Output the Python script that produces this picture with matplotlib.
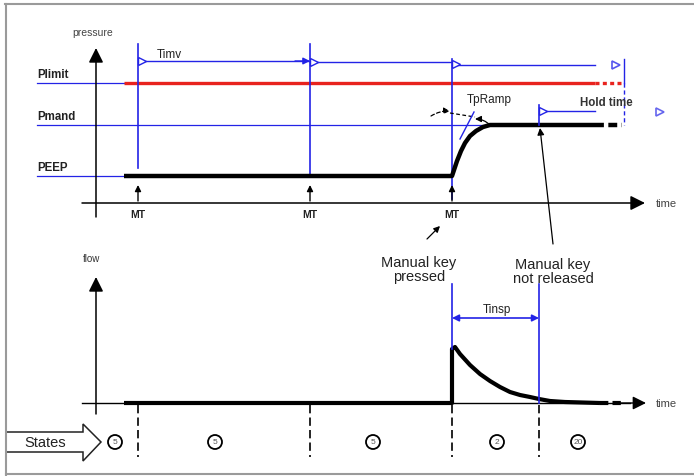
import matplotlib
matplotlib.use("Agg")
import matplotlib.pyplot as plt
from matplotlib.patches import Circle, Polygon

plt.rcParams['font.family'] = ['Liberation Sans', 'DejaVu Sans']

# ---- data (diagram units; y grows downward) ----
mt_times = [138, 310, 452]
release_time = 539
end_time = 595
dash_end = 622
level_names = ["Plimit", "Pmand", "PEEP"]
level_values = [84, 126, 177]
pressure_t = [124, 452, 454, 457, 461, 465, 470, 476, 483, 490, 500, 595]
pressure_p = [177, 177, 171, 162, 152, 144, 137, 132, 128, 126, 126, 126]
flow_t = [124, 452, 452, 455, 460, 470, 480, 490, 500, 510, 520, 530, 539, 550, 565, 600]
flow_v = [404, 404, 350, 348, 355, 366, 375, 382, 388, 393, 396, 398, 400, 402, 403, 404]
state_bounds = [138, 310, 452, 539]
state_centers = [115, 215, 373, 497, 578]
state_labels = ["5", "5", "5", "2", "20"]

BLUE = "#2323e6"
RED = "#e8231e"

fig = plt.figure(figsize=(6.94, 4.77), dpi=100)
ax = fig.add_axes([0, 0, 1, 1])
ax.set_xlim(0, 694)
ax.set_ylim(477, 0)
ax.axis("off")

# frame
ax.plot([5, 694], [5, 5], color="#9a9a9a", lw=1.5)
ax.plot([6, 6], [5, 476], color="#9a9a9a", lw=1.5)
ax.plot([6, 694], [475, 475], color="#9a9a9a", lw=1.5)

def arrow(x0, y0, x1, y1, color="k", lw=1.0, ms=14, style='-|>'):
    ax.annotate('', xy=(x1, y1), xytext=(x0, y0),
                arrowprops=dict(arrowstyle=style, color=color, lw=lw,
                                mutation_scale=ms, shrinkA=0, shrinkB=0))

# ---------------- pressure panel ----------------
P_AX_Y = 204
arrow(96, 218, 96, 49, lw=1.1, ms=22)
arrow(82, P_AX_Y, 645, P_AX_Y, lw=1.1, ms=22)
ax.text(93, 33, "pressure", fontsize=7.5, color="#444", ha="center", va="center")
ax.text(656, P_AX_Y, "time", fontsize=8, color="#444", ha="left", va="center")

# level lines and labels
for name, val in zip(level_names, level_values):
    right = 490 if name == "Pmand" else 124
    ax.plot([37, right], [val, val], color=BLUE, lw=0.9)
    ax.text(37, val - 9, name, fontsize=8.3, fontweight="bold", color="#222",
            ha="left", va="center")

# red Plimit line
ax.plot([124, end_time], [level_values[0]] * 2, color=RED, lw=2.4, solid_capstyle="butt")
ax.plot([end_time, dash_end], [level_values[0]] * 2, color=RED, lw=2.4, ls=(0, (1.2, 1.0)))

# MT verticals
ax.plot([mt_times[0]] * 2, [45, 169], color=BLUE, lw=1.2)
ax.plot([mt_times[1]] * 2, [45, 177], color=BLUE, lw=1.2)
ax.plot([mt_times[2]] * 2, [60, 200], color=BLUE, lw=1.2)

# pressure curve
ax.plot(pressure_t, pressure_p, color="k", lw=3.2, solid_capstyle="butt", solid_joinstyle="round")
ax.plot([end_time, dash_end], [level_values[1]] * 2, color="k", lw=3.2, ls=(0, (2.0, 1.0)))

# MT markers
for t in mt_times:
    arrow(t, 202, t, 186, lw=1.0, ms=9)
    ax.text(t, 215, "MT", fontsize=7.5, fontweight="bold", color="#222", ha="center", va="center")

# Timv arrows
ax.plot([mt_times[0] + 2, mt_times[1]], [62, 62], color=BLUE, lw=1.0)
arrow(mt_times[1] - 15, 62, mt_times[1], 62, color=BLUE, lw=1.0, ms=10)
ax.plot([mt_times[1], mt_times[2]], [63, 63], color=BLUE, lw=1.0)
ax.plot([mt_times[2], end_time], [66, 66], color=BLUE, lw=1.0)
for t, yy in [(mt_times[0], 62), (mt_times[1], 63), (mt_times[2], 65)]:
    ax.plot(t + 4, yy, marker=">", ms=6, mfc="white", mec=BLUE, mew=1.0)
ax.plot(616, 66, marker=">", ms=6, mfc="white", mec="#5555ee", mew=1.2)
ax.plot([624, 624], [60, 84], color=BLUE, lw=1.0)
ax.plot([624, 624], [84, 126], color=BLUE, lw=1.0, ls=(0, (3, 2)))
ax.text(157, 55, "Timv", fontsize=8.5, color="#222", ha="left", va="center")

# TpRamp
ax.text(467, 100, "TpRamp", fontsize=8.5, color="#222", ha="left", va="center")
ax.annotate('', xy=(450, 112), xytext=(431, 117),
            arrowprops=dict(arrowstyle='-|>', color='k', lw=0.9, ls=(0, (3, 2)),
                            mutation_scale=9, shrinkA=0, shrinkB=0,
                            connectionstyle="arc3,rad=-0.15"))
ax.annotate('', xy=(475, 120), xytext=(490, 126),
            arrowprops=dict(arrowstyle='-|>', color='k', lw=0.9,
                            mutation_scale=9, shrinkA=0, shrinkB=0,
                            connectionstyle="arc3,rad=0.2"))
ax.plot([450, 475], [114, 118], color="k", lw=0.9, ls=(0, (3, 2)))
ax.plot([460, 474], [140, 113], color=BLUE, lw=1.0)

# Hold time
ax.plot([release_time] * 2, [106, 126], color=BLUE, lw=1.2)
ax.plot([release_time + 2, end_time], [112, 112], color=BLUE, lw=1.0)
ax.plot(release_time + 4, 112, marker=">", ms=6, mfc="white", mec=BLUE, mew=1.0)
ax.plot(660, 113, marker=">", ms=6, mfc="white", mec="#6666ee", mew=1.2)
ax.text(580, 103, "Hold time", fontsize=8.3, fontweight="bold", color="#333", ha="left", va="center")

# pointers
arrow(553, 245, 540, 129, lw=0.9, ms=10)
arrow(427, 240, 440, 227, lw=0.9, ms=9)
ax.text(419, 270, "Manual key\npressed", fontsize=10.5, color="#222", ha="center",
        va="center", linespacing=1.05)
ax.text(553, 272, "Manual key\nnot released", fontsize=10.5, color="#222", ha="center",
        va="center", linespacing=1.05)

# ---------------- flow panel ----------------
F_AX_Y = 404
arrow(96, 415, 96, 278, lw=1.1, ms=22)
ax.plot([82, 630], [F_AX_Y, F_AX_Y], color="k", lw=1.0)
ax.text(91, 259, "flow", fontsize=7, color="#333", ha="center", va="center")
ax.text(656, F_AX_Y, "time", fontsize=8, color="#444", ha="left", va="center")

ax.plot(flow_t, flow_v, color="k", lw=3.0, solid_capstyle="butt", solid_joinstyle="round")
ax.plot([600, 624], [F_AX_Y, F_AX_Y], color="k", lw=3.0, ls=(0, (2.0, 1.0)))
arrow(620, F_AX_Y, 646, F_AX_Y, lw=1.0, ms=20)

# Tinsp
ax.plot([mt_times[2]] * 2, [285, 350], color=BLUE, lw=1.2)
ax.plot([release_time] * 2, [285, F_AX_Y], color=BLUE, lw=1.2)
ax.annotate('', xy=(release_time, 319), xytext=(mt_times[2], 319),
            arrowprops=dict(arrowstyle='<|-|>', color=BLUE, lw=1.2,
                            mutation_scale=10, shrinkA=0, shrinkB=0))
ax.text(497, 310, "Tinsp", fontsize=8.5, color="#222", ha="center", va="center")

# states
for b in state_bounds:
    ax.plot([b, b], [406, 458], color="k", lw=1.2, ls=(0, (5, 2.5)))
for c, lab in zip(state_centers, state_labels):
    ax.add_patch(Circle((c, 443), 7, fill=False, ec="k", lw=1.3))
    ax.text(c, 443, lab, fontsize=6, color="#555", ha="center", va="center")

block = [(5, 433), (83, 433), (83, 425), (101, 443), (83, 462), (83, 453), (5, 453)]
ax.add_patch(Polygon(block, closed=False, fill=False, ec="#222", lw=1.1))
ax.text(45, 443, "States", fontsize=10.5, color="#222", ha="center", va="center")

fig.savefig("out.png", dpi=100)
